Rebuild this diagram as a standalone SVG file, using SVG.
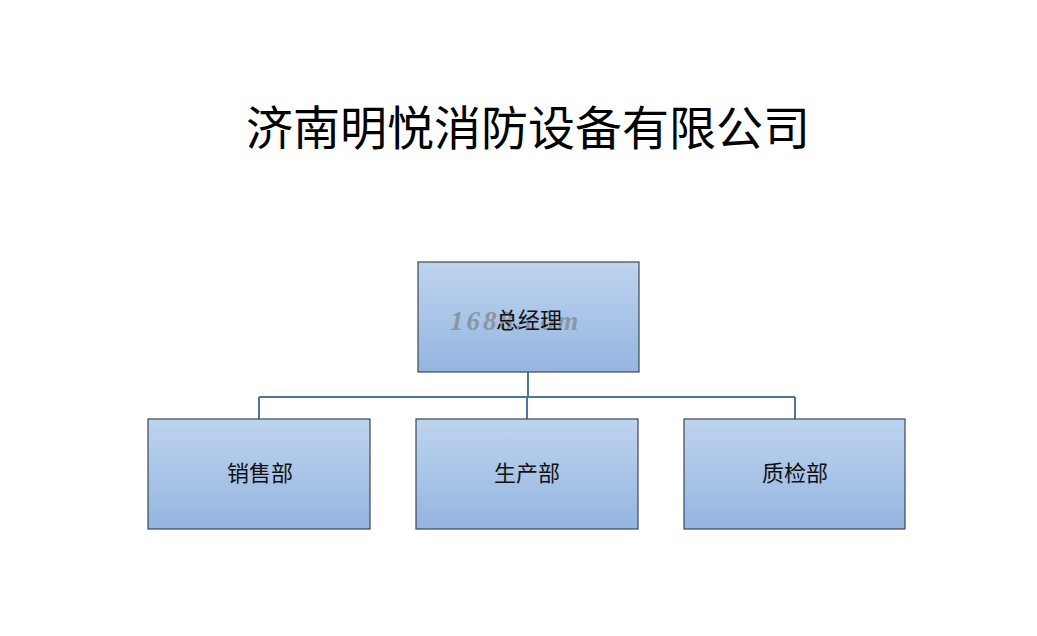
<svg xmlns="http://www.w3.org/2000/svg" width="1037" height="636" viewBox="0 0 1037 636">
<style>
.box{fill:url(#g);stroke:#3e4652;stroke-width:1.2}
.lbl{font-family:"Noto Sans CJK SC","Noto Sans CJK JP",sans-serif;font-size:22px;fill:#111;text-anchor:middle}
.title{font-family:"Noto Sans CJK SC","Noto Sans CJK JP",sans-serif;font-size:47px;fill:#000;text-anchor:middle}
.wm{font-family:"Liberation Serif",serif;font-style:italic;font-weight:bold;font-size:27px;fill:#80878e;fill-opacity:0.75;letter-spacing:3px}
.conn{fill:none;stroke:#4a7898;stroke-width:2}
</style>
<defs>
<linearGradient id="g" x1="0" y1="0" x2="0" y2="1">
<stop offset="0" stop-color="#bed4ef"/>
<stop offset="1" stop-color="#94b5e0"/>
</linearGradient>
</defs>
<rect width="1037" height="636" fill="#fff"/>
<text class="title" x="528" y="145">济南明悦消防设备有限公司</text>
<g id="connectors">
<path class="conn" d="M528 372 V397 M259 397 H795 M259 397 V419 M527 397 V419 M795 397 V419"/>
</g>
<g id="node-gm">
<rect class="box" x="418" y="262" width="221" height="110"/>
<text class="wm" x="450" y="330">1688.com</text>
<text class="lbl" x="529" y="328">总经理</text>
</g>
<g id="node-sales">
<rect class="box" x="148" y="419" width="222" height="110"/>
<text class="lbl" x="260" y="481">销售部</text>
</g>
<g id="node-prod">
<rect class="box" x="416" y="419" width="222" height="110"/>
<text class="lbl" x="527" y="481">生产部</text>
</g>
<g id="node-qc">
<rect class="box" x="684" y="419" width="221" height="110"/>
<text class="lbl" x="795" y="481">质检部</text>
</g>
</svg>
